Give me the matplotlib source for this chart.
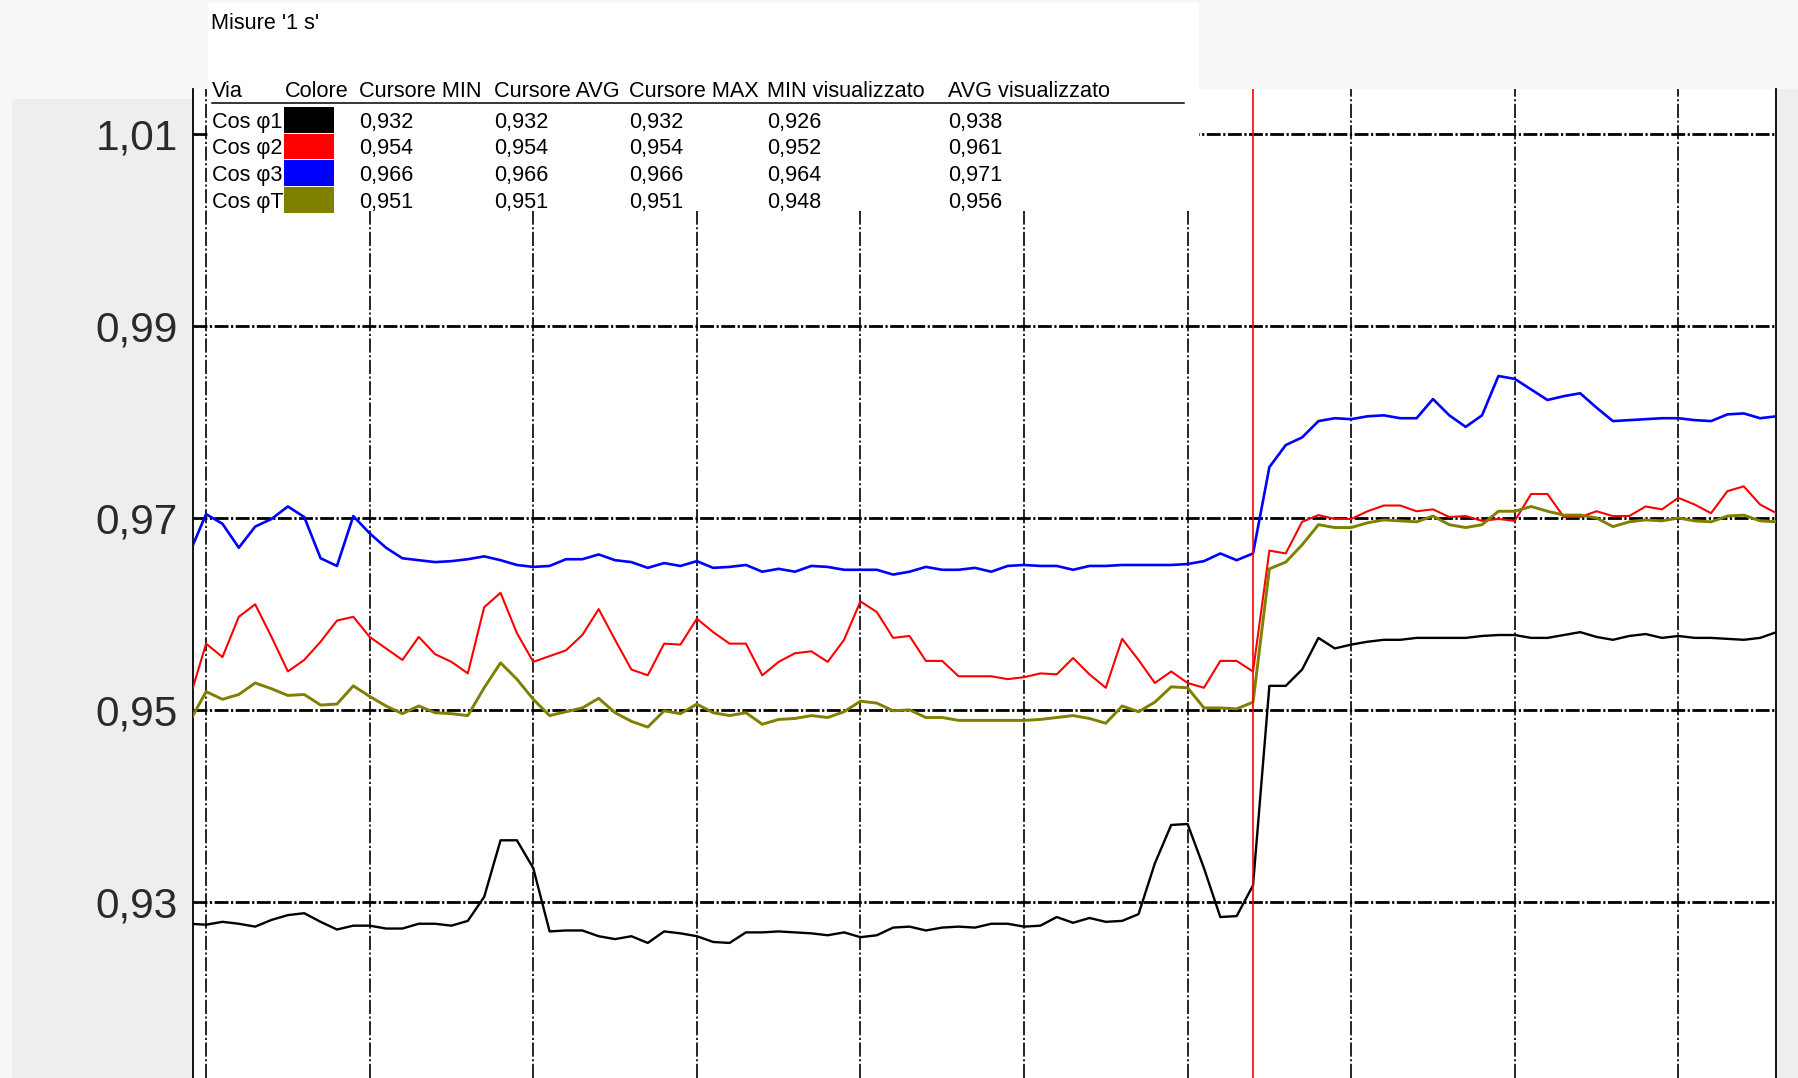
import matplotlib
matplotlib.use("Agg")
import matplotlib.pyplot as plt
from matplotlib.patches import Rectangle
from matplotlib.lines import Line2D

W, H, DPI = 1798, 1078, 100

# ---------------- data ----------------
sample_idx = list(range(-1, 97))

cos_phi1 = [0.9277, 0.9276, 0.9279, 0.9277, 0.9274, 0.9281, 0.9286, 0.9288, 0.9279, 0.9271,
            0.9275, 0.9275, 0.9272, 0.9272, 0.9277, 0.9277, 0.9275, 0.9280, 0.9305, 0.9364,
            0.9364, 0.9335, 0.9269, 0.9270, 0.9270, 0.9264, 0.9261, 0.9264, 0.9257, 0.9269,
            0.9267, 0.9264, 0.9258, 0.9257, 0.9268, 0.9268, 0.9269, 0.9268, 0.9267, 0.9265,
            0.9268, 0.9263, 0.9265, 0.9273, 0.9274, 0.9270, 0.9273, 0.9274, 0.9273, 0.9277,
            0.9277, 0.9274, 0.9275, 0.9284, 0.9278, 0.9283, 0.9279, 0.9280, 0.9287, 0.9340,
            0.9380, 0.9381, 0.9335, 0.9284, 0.9285, 0.9317, 0.9525, 0.9525, 0.9542, 0.9575,
            0.9564, 0.9568, 0.9571, 0.9573, 0.9573, 0.9575, 0.9575, 0.9575, 0.9575, 0.9577,
            0.9578, 0.9578, 0.9575, 0.9575, 0.9578, 0.9581, 0.9576, 0.9573, 0.9577, 0.9579,
            0.9575, 0.9577, 0.9575, 0.9575, 0.9574, 0.9573, 0.9575, 0.9581]

cos_phi2 = [0.9512, 0.9569, 0.9555, 0.9597, 0.9610, 0.9576, 0.9540, 0.9552, 0.9571, 0.9593,
            0.9597, 0.9576, 0.9564, 0.9552, 0.9576, 0.9558, 0.9550, 0.9538, 0.9607, 0.9622,
            0.9580, 0.9550, 0.9556, 0.9562, 0.9578, 0.9605, 0.9573, 0.9542, 0.9536, 0.9569,
            0.9568, 0.9595, 0.9581, 0.9569, 0.9569, 0.9536, 0.9550, 0.9559, 0.9561, 0.9550,
            0.9573, 0.9613, 0.9602, 0.9575, 0.9577, 0.9551, 0.9551, 0.9535, 0.9535, 0.9535,
            0.9532, 0.9534, 0.9538, 0.9537, 0.9554, 0.9537, 0.9523, 0.9574, 0.9552, 0.9528,
            0.9540, 0.9528, 0.9523, 0.9551, 0.9551, 0.9540, 0.9666, 0.9663, 0.9696, 0.9703,
            0.9699, 0.9699, 0.9707, 0.9713, 0.9713, 0.9707, 0.9709, 0.9701, 0.9702, 0.9697,
            0.9699, 0.9697, 0.9725, 0.9725, 0.9701, 0.9701, 0.9707, 0.9702, 0.9702, 0.9712,
            0.9709, 0.9721, 0.9714, 0.9705, 0.9728, 0.9733, 0.9714, 0.9705]

cos_phi3 = [0.9664, 0.9704, 0.9694, 0.9669, 0.9691, 0.9699, 0.9712, 0.9701, 0.9658, 0.9650,
            0.9702, 0.9684, 0.9669, 0.9658, 0.9656, 0.9654, 0.9655, 0.9657, 0.9660, 0.9656,
            0.9651, 0.9649, 0.9650, 0.9657, 0.9657, 0.9662, 0.9656, 0.9654, 0.9648, 0.9653,
            0.9650, 0.9655, 0.9648, 0.9649, 0.9651, 0.9644, 0.9647, 0.9644, 0.9650, 0.9649,
            0.9646, 0.9646, 0.9646, 0.9641, 0.9644, 0.9649, 0.9646, 0.9646, 0.9648, 0.9644,
            0.9650, 0.9651, 0.9650, 0.9650, 0.9646, 0.9650, 0.9650, 0.9651, 0.9651, 0.9651,
            0.9651, 0.9652, 0.9655, 0.9663, 0.9656, 0.9663, 0.9753, 0.9776, 0.9784, 0.9801,
            0.9804, 0.9803, 0.9806, 0.9807, 0.9804, 0.9804, 0.9824, 0.9807, 0.9795, 0.9807,
            0.9848, 0.9845, 0.9834, 0.9823, 0.9827, 0.9830, 0.9815, 0.9801, 0.9802, 0.9803,
            0.9804, 0.9804, 0.9802, 0.9801, 0.9808, 0.9809, 0.9804, 0.9806]

cos_phiT = [0.9488, 0.9519, 0.9511, 0.9516, 0.9528, 0.9522, 0.9515, 0.9516, 0.9505, 0.9506,
            0.9525, 0.9514, 0.9504, 0.9496, 0.9504, 0.9497, 0.9496, 0.9494, 0.9523, 0.9549,
            0.9532, 0.9511, 0.9494, 0.9498, 0.9502, 0.9512, 0.9497, 0.9488, 0.9482, 0.9499,
            0.9496, 0.9506, 0.9497, 0.9494, 0.9497, 0.9485, 0.9490, 0.9491, 0.9494, 0.9492,
            0.9498, 0.9509, 0.9507, 0.9499, 0.9500, 0.9492, 0.9492, 0.9489, 0.9489, 0.9489,
            0.9489, 0.9489, 0.9490, 0.9492, 0.9494, 0.9491, 0.9486, 0.9504, 0.9498, 0.9508,
            0.9524, 0.9523, 0.9502, 0.9502, 0.9501, 0.9508, 0.9647, 0.9654, 0.9672, 0.9693,
            0.9690, 0.9690, 0.9695, 0.9698, 0.9697, 0.9696, 0.9702, 0.9693, 0.9690, 0.9693,
            0.9707, 0.9707, 0.9712, 0.9707, 0.9703, 0.9703, 0.9700, 0.9691, 0.9696, 0.9698,
            0.9697, 0.9700, 0.9697, 0.9696, 0.9702, 0.9703, 0.9697, 0.9696]

series_names = ["Cos φ1", "Cos φ2", "Cos φ3", "Cos φT"]
series_colors = ["#000000", "#ff0000", "#0000ff", "#808000"]
series_values = [cos_phi1, cos_phi2, cos_phi3, cos_phiT]

table_title = "Misure '1 s'"
table_columns = ["Via", "Colore", "Cursore MIN", "Cursore AVG", "Cursore MAX",
                 "MIN visualizzato", "AVG visualizzato"]
cursor_min = ["0,932", "0,954", "0,966", "0,951"]
cursor_avg = ["0,932", "0,954", "0,966", "0,951"]
cursor_max = ["0,932", "0,954", "0,966", "0,951"]
min_visualizzato = ["0,926", "0,952", "0,964", "0,948"]
avg_visualizzato = ["0,938", "0,961", "0,971", "0,956"]

y_ticks = [0.93, 0.95, 0.97, 0.99, 1.01]
y_tick_labels = ["0,93", "0,95", "0,97", "0,99", "1,01"]
x_grid = [0, 10, 20, 30, 40, 50, 60, 70, 80, 90]
cursor_sample = 64

# ---------------- figure ----------------
plt.rcParams['font.family'] = ['Liberation Sans', 'DejaVu Sans']
fig = plt.figure(figsize=(W / DPI, H / DPI), dpi=DPI, facecolor='#f7f7f7')


def fx(x):
    return x / W


def fy(y):
    return 1 - y / H


# grey side panels
fig.add_artist(Rectangle((fx(12), 0), fx(193) - fx(12), fy(99), transform=fig.transFigure,
                         facecolor='#eeeeee', edgecolor='none', zorder=-1))
fig.add_artist(Rectangle((fx(1777), 0), 1 - fx(1777), fy(89), transform=fig.transFigure,
                         facecolor='#eeeeee', edgecolor='none', zorder=-1))

ax = fig.add_axes([fx(193), 0, fx(1776) - fx(193), fy(89)])
ax.set_facecolor('white')
ax.set_xlim(-0.8, 95.97)
ax.set_ylim(0.91162, 1.01472)

for yv in y_ticks:
    ax.axhline(yv, color='black', lw=2.0, dashes=(5.0, 0.9, 0.8, 0.9), zorder=1)
for xv in x_grid:
    ax.axvline(xv, color='black', lw=1.2, dashes=(8.5, 1.5, 1.3, 1.5), zorder=1)

line_widths = [1.7, 1.5, 1.9, 2.1]
for vals, col, lw in zip(series_values, series_colors, line_widths):
    ax.plot(sample_idx, vals, color=col, lw=lw, zorder=3)

ax.axvline(cursor_sample, color='#ff0000', lw=1.2, zorder=5)

for side in ['top', 'bottom']:
    ax.spines[side].set_visible(False)
for side in ['left', 'right']:
    ax.spines[side].set_color('black')
    ax.spines[side].set_linewidth(1.3)

ax.set_xticks([])
ax.set_yticks(y_ticks, y_tick_labels)
ax.tick_params(axis='y', length=0, pad=11, labelsize=30.5, labelcolor='#2a2a2a')

# ---------------- table box ----------------
fig.add_artist(Rectangle((fx(208), fy(211)), fx(1199) - fx(208), fy(3) - fy(211),
                         transform=fig.transFigure, facecolor='white', edgecolor='none', zorder=2))

FS = 15.6
fig.text(fx(211), fy(21), table_title, fontsize=FS, va='center_baseline', ha='left', zorder=3)
col_x = [212, 285, 359, 494, 629, 767, 948]
for cx, name in zip(col_x, table_columns):
    fig.text(fx(cx), fy(89), name, fontsize=FS, va='center_baseline', ha='left', zorder=3)
fig.add_artist(Line2D([fx(212), fx(1184)], [fy(102.7), fy(102.7)], transform=fig.transFigure,
                      color='black', lw=1.1, zorder=3))

for k in range(4):
    top = 107 + 26.7 * k
    cy = top + 12.75
    fig.add_artist(Rectangle((fx(284), fy(top + 25.5)), fx(334) - fx(284), fy(top) - fy(top + 25.5),
                             transform=fig.transFigure, facecolor=series_colors[k],
                             edgecolor='none', zorder=3))
    fig.text(fx(212), fy(cy), series_names[k], fontsize=FS, va='center_baseline', ha='left', zorder=4)
    row_vals = [cursor_min[k], cursor_avg[k], cursor_max[k], min_visualizzato[k], avg_visualizzato[k]]
    for cx, v in zip(col_x[2:], row_vals):
        fig.text(fx(cx), fy(cy), v, fontsize=FS, va='center_baseline', ha='left', zorder=3)

fig.savefig('out.png', dpi=DPI, facecolor=fig.get_facecolor())
